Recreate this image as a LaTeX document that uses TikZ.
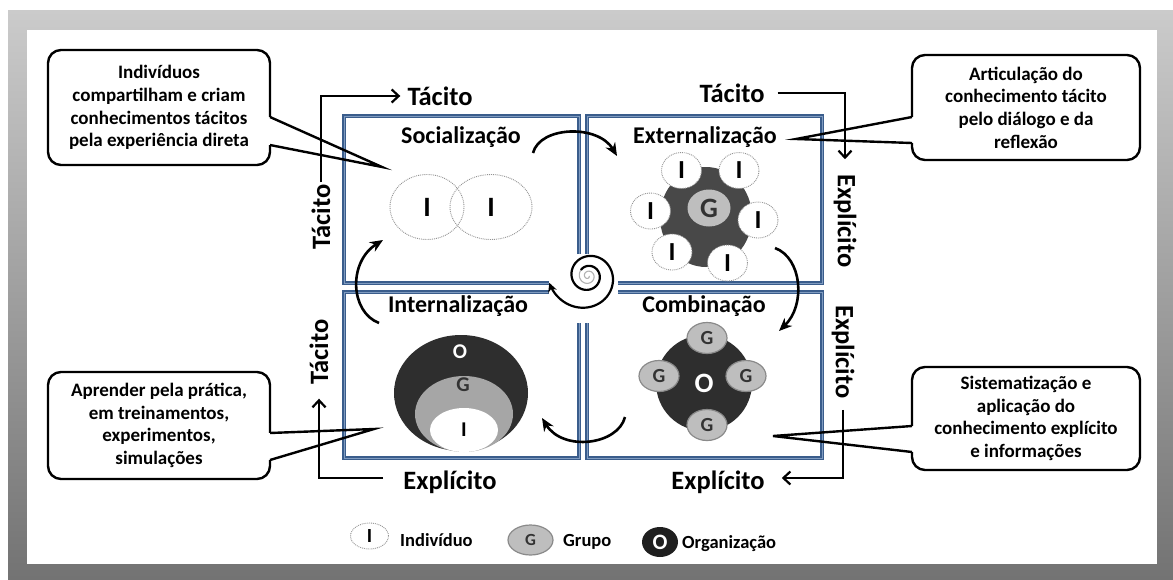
\documentclass[tikz,border=0pt]{standalone}
\usepackage{fontspec}
\setmainfont{Carlito}
\usetikzlibrary{arrows.meta,shapes.geometric}
\newcommand\fsz[2]{\fontsize{#1}{#2}\selectfont}
\definecolor{qblue}{HTML}{3A5D8C}
\definecolor{qlight}{HTML}{7F9BC0}
\definecolor{frtop}{HTML}{CBCBCB}
\definecolor{frbot}{HTML}{737373}
\definecolor{darkfill}{HTML}{2E2E2E}
\definecolor{blobfill}{HTML}{484848}
\definecolor{gfill}{HTML}{BEBEBE}
\definecolor{gedge}{HTML}{8A8A8A}
\definecolor{gtext}{HTML}{333333}
\begin{document}
\begin{tikzpicture}[x=1pt,y=-1pt,
  qbox/.style={draw=qblue, double=qlight, double distance=0.7pt, line width=1.5pt, line join=miter},
  qtitle/.style={font=\bfseries\fsz{24}{28}, inner sep=1pt},
  axlab/.style={font=\bfseries\fsz{26.5}{30}, inner sep=2pt},
  axarrow/.style={line width=2.2pt, line join=miter, -{Straight Barb[length=7pt,width=13pt]}},
  callout/.style={draw, line width=2.4pt, rounded corners=13pt, fill=white, align=center, font=\bfseries\fsz{19}{22.7}, inner sep=0pt},
  ptr/.style={line width=2.4pt, line join=miter},
  indiv/.style={ellipse, draw=gray!85, densely dotted, line width=0.9pt, fill=white, inner sep=0pt, font=\bfseries\fsz{26}{30}},
  grp/.style={ellipse, draw=gedge, line width=1.2pt, fill=gfill, inner sep=0pt, text=gtext, font=\bfseries\fsz{20}{24}},
  orgn/.style={ellipse, fill=darkfill, inner sep=0pt, text=white, font=\bfseries\fsz{28}{32}},
  cyc/.style={line width=2.6pt, -{Stealth[length=13pt,width=11pt]}},
  lgtext/.style={anchor=base west, inner sep=0pt, font=\bfseries\fsz{18.5}{22}}
]
\useasboundingbox (0,0) rectangle (1173,579);
\fill[white] (0,0) rectangle (1173,579);
% frame
\shade[top color=frtop, bottom color=frbot] (8,10) rectangle (1173,579);
\fill[white] (27,30) rectangle (1157,564);

% quadrant boxes
\draw[qbox] (579,254) -- (579,116) -- (344,116) -- (344,283) -- (549,283);
\draw[qbox] (587,254) -- (587,116) -- (822,116) -- (822,283) -- (618,283);
\draw[qbox] (549,292) -- (344,292) -- (344,458) -- (579,458) -- (579,323);
\draw[qbox] (618,292) -- (822,292) -- (822,458) -- (587,458) -- (587,323);

% quadrant titles
\node[qtitle] (tSoc) at (461,137) {Socialização};
\node[qtitle] (tExt) at (705,137) {Externalização};
\node[qtitle] (tInt) at (458,306) {Internalização};
\node[qtitle] (tCom) at (704,306) {Combinação};

% axis labels
\node[axlab] (tacT) at (440,96) {Tácito};
\node[axlab, rotate=90] (tacL1) at (321,217) {Tácito};
\node[axlab] (tacTR) at (732,93) {Tácito};
\node[axlab, rotate=-90] (expTR) at (845,221) {Explícito};
\node[axlab, rotate=-90] (expBR) at (843,352) {Explícito};
\node[axlab] (expB2) at (718,482) {Explícito};
\node[axlab] (expBL) at (450,482) {Explícito};
\node[axlab, rotate=90] (tacL2) at (319,352) {Tácito};

\draw[axarrow, shorten >=5pt] (tacL1.east) |- (tacT.west);
\draw[axarrow, shorten <=11pt, shorten >=13pt] (tacTR.east) -| (expTR.west);
\draw[axarrow, shorten <=9pt, shorten >=15pt] (expBR.east) |- ([yshift=4pt]expB2.east);
\draw[axarrow, shorten <=18pt, shorten >=12pt] ([yshift=4pt]expBL.west) -| (tacL2.west);

% Socializacao
\node[indiv, fill=none, minimum width=74pt, minimum height=65pt, font=\bfseries\fsz{28}{32}] (soc1) at (427,207) {I};
\node[indiv, fill=none, minimum width=82pt, minimum height=65pt, font=\bfseries\fsz{28}{32}] (soc2) at (491,207) {I};

% Externalizacao
\node[ellipse, fill=blobfill, inner sep=0pt, minimum width=92pt, minimum height=100pt] (extO) at (706,217) {};
\node[grp, minimum width=43pt, minimum height=37pt, font=\bfseries\fsz{28}{32}, draw=none] (extG) at (709,208) {G};
\node[indiv, minimum width=40pt, minimum height=36pt] (e1) at (681.5,170.5) {I};
\node[indiv, minimum width=40pt, minimum height=36pt] (e2) at (739,170.5) {I};
\node[indiv, minimum width=40pt, minimum height=36pt] (e3) at (650.5,211) {I};
\node[indiv, minimum width=40pt, minimum height=36pt] (e4) at (758,220) {I};
\node[indiv, minimum width=40pt, minimum height=36pt] (e5) at (672,252) {I};
\node[indiv, minimum width=40pt, minimum height=36pt] (e6) at (727.5,263) {I};

% Combinacao
\node[orgn, minimum width=96pt, minimum height=96pt] (comO) at (704,383) {O};
\node[grp, minimum width=40pt, minimum height=31pt] (g1) at (707,338) {G};
\node[grp, minimum width=40pt, minimum height=31pt] (g2) at (659,376) {G};
\node[grp, minimum width=40pt, minimum height=31pt] (g3) at (746,376) {G};
\node[grp, minimum width=40pt, minimum height=31pt] (g4) at (707,425) {G};

% Internalizacao
\node[ellipse, fill=darkfill, inner sep=0pt, minimum width=134pt, minimum height=116pt] (intO) at (461,393) {};
\node[ellipse, fill=gray!70, inner sep=0pt, minimum width=98pt, minimum height=76pt] (intG) at (464,414) {};
\node[ellipse, fill=white, inner sep=0pt, minimum width=68pt, minimum height=44pt, font=\bfseries\fsz{21}{24}] (intI) at (464,430) {I};
\node[inner sep=0pt, text=white, font=\bfseries\fsz{21}{24}] (intOl) at (460,352) {O};
\node[inner sep=0pt, text=gtext, font=\bfseries\fsz{21}{24}] (intGl) at (463,385) {G};

% cycle arrows
\coordinate (a1s) at (533,153); \coordinate (a1e) at (617,156);
\coordinate (a2s) at (775,248); \coordinate (a2e) at (779,331);
\coordinate (a3s) at (625,417); \coordinate (a3e) at (542,418);
\coordinate (a4s) at (379,323); \coordinate (a4e) at (383,240);
\draw[cyc] (a1s) .. controls (540,126) and (598,124) .. (a1e);
\draw[cyc] (a2s) .. controls (802,258) and (806,305) .. (a2e);
\draw[cyc] (a3s) .. controls (618,445) and (563,452) .. (a3e);
\draw[cyc] (a4s) .. controls (350,312) and (348,262) .. (a4e);

% spiral
\draw[gray!60, line width=1.1pt] plot[domain=0:580, samples=100, smooth]
  ({588+(1+5*\x/360+22*(\x/1260)^6)*cos(\x)}, {276+(1+5*\x/360+22*(\x/1260)^6)*sin(\x)});
\draw[black, line width=2.2pt, -{Stealth[length=9pt,width=9pt]}] plot[domain=580:1250, samples=150, smooth]
  ({588+(1+5*\x/360+22*(\x/1260)^6)*cos(\x)}, {276+(1+5*\x/360+22*(\x/1260)^6)*sin(\x)});

% callouts
\node[callout, minimum width=222pt, minimum height=115pt] (cb1) at (159,107.5)
  {Indivíduos\\compartilham e criam\\conhecimentos tácitos\\pela experiência direta};
\node[callout, minimum width=228pt, minimum height=105pt] (cb2) at (1026,107.5)
  {Articulação do\\conhecimento tácito\\pelo diálogo e da\\reflexão};
\node[callout, minimum width=222pt, minimum height=107pt] (cb3) at (159,425.5)
  {Aprender pela prática,\\em treinamentos,\\experimentos,\\simulações};
\node[callout, minimum width=228pt, minimum height=103pt] (cb4) at (1026,418.5)
  {Sistematização e\\aplicação do\\conhecimento explícito\\e informações};

\coordinate (p1a) at (270,117); \coordinate (p1b) at (270,145); \coordinate (p1t) at (382,167);
\coordinate (p2a) at (912,117); \coordinate (p2b) at (912,143); \coordinate (p2t) at (796,139);
\coordinate (p3a) at (270,433); \coordinate (p3b) at (270,460); \coordinate (p3t) at (374,429);
\coordinate (p4a) at (912,426); \coordinate (p4b) at (912,452); \coordinate (p4t) at (773,436);
\foreach \k in {1,2,3,4}{
  \draw[white, line width=4.5pt] (p\k a) -- (p\k b);
  \draw[ptr] (p\k a) -- (p\k t) -- (p\k b);
}

% legend
\node[indiv, minimum width=38pt, minimum height=26pt, font=\bfseries\fsz{20}{24}] (lgI) at (369.5,536) {I};
\node[lgtext] (lgIt) at (400,546) {Indivíduo};
\node[grp, minimum width=45pt, minimum height=30pt, font=\bfseries\fsz{17}{20}] (lgG) at (530.5,540) {G};
\node[lgtext] (lgGt) at (563,546) {Grupo};
\node[orgn, fill=black!88, minimum width=36pt, minimum height=30pt, font=\bfseries\fsz{22}{26}] (lgO) at (660,542) {O};
\node[lgtext] (lgOt) at (682,548) {Organização};
\end{tikzpicture}
\end{document}
